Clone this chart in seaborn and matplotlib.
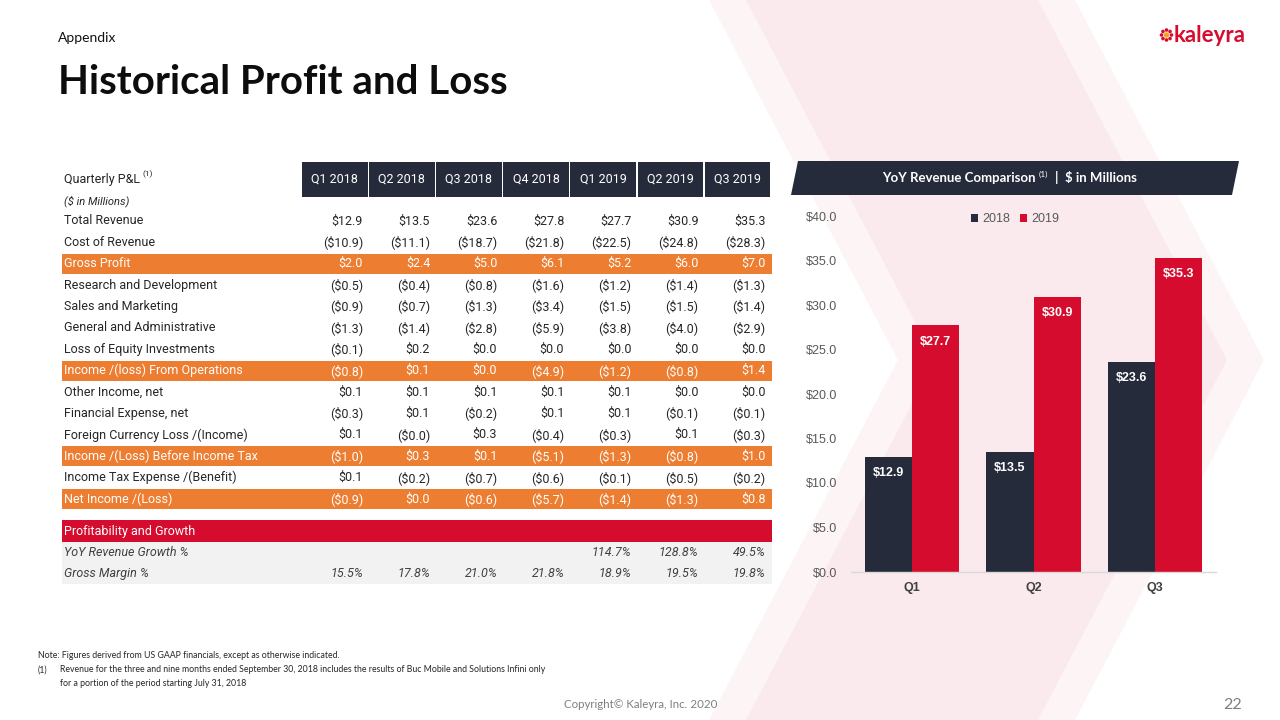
import numpy as np
import pandas as pd
import seaborn as sns
import matplotlib.pyplot as plt
from matplotlib.patches import Polygon, Rectangle, Circle

# ---- table data ($ in millions) ----
quarters = ["Q1 2018", "Q2 2018", "Q3 2018", "Q4 2018", "Q1 2019", "Q2 2019", "Q3 2019"]

row_labels = [
    "Total Revenue",
    "Cost of Revenue",
    "Gross Profit",
    "Research and Development",
    "Sales and Marketing",
    "General and Administrative",
    "Loss of Equity Investments",
    "Income /(loss) From Operations",
    "Other Income, net",
    "Financial Expense, net",
    "Foreign Currency Loss /(Income)",
    "Income /(Loss) Before Income Tax",
    "Income Tax Expense /(Benefit)",
    "Net Income /(Loss)",
]
highlight_rows = ["Gross Profit", "Income /(loss) From Operations",
                  "Income /(Loss) Before Income Tax", "Net Income /(Loss)"]

total_revenue = [12.9, 13.5, 23.6, 27.8, 27.7, 30.9, 35.3]
cost_of_revenue = [-10.9, -11.1, -18.7, -21.8, -22.5, -24.8, -28.3]
gross_profit = [2.0, 2.4, 5.0, 6.1, 5.2, 6.0, 7.0]
research_dev = [-0.5, -0.4, -0.8, -1.6, -1.2, -1.4, -1.3]
sales_marketing = [-0.9, -0.7, -1.3, -3.4, -1.5, -1.5, -1.4]
general_admin = [-1.3, -1.4, -2.8, -5.9, -3.8, -4.0, -2.9]
equity_investments = [-0.1, 0.2, 0.0, 0.0, 0.0, 0.0, 0.0]
income_operations = [-0.8, 0.1, 0.0, -4.9, -1.2, -0.8, 1.4]
other_income = [0.1, 0.1, 0.1, 0.1, 0.1, 0.0, 0.0]
financial_expense = [-0.3, 0.1, -0.2, 0.1, 0.1, -0.1, -0.1]
fx_loss = [0.1, -0.0, 0.3, -0.4, -0.3, 0.1, -0.3]
income_before_tax = [-1.0, 0.3, 0.1, -5.1, -1.3, -0.8, 1.0]
income_tax = [0.1, -0.2, -0.7, -0.6, -0.1, -0.5, -0.2]
net_income = [-0.9, 0.0, -0.6, -5.7, -1.4, -1.3, 0.8]

row_values = [total_revenue, cost_of_revenue, gross_profit, research_dev, sales_marketing,
              general_admin, equity_investments, income_operations, other_income,
              financial_expense, fx_loss, income_before_tax, income_tax, net_income]

yoy_growth = [None, None, None, None, 114.7, 128.8, 49.5]
gross_margin = [15.5, 17.8, 21.0, 21.8, 18.9, 19.5, 19.8]

# ---- chart data ----
chart_quarters = ["Q1", "Q2", "Q3"]
revenue_2018 = total_revenue[0:3]
revenue_2019 = total_revenue[4:7]

NAVY = "#262b3b"
RED = "#d50c2d"
ORANGE = "#ed7d31"
TEXT = "#262626"


def money(v):
    s = f"${abs(v):.1f}"
    return f"({s})" if np.signbit(v) else s


sns.set_theme(style="white")
plt.rcParams["font.family"] = ["Roboto", "DejaVu Sans"]

fig = plt.figure(figsize=(12.8, 7.2), dpi=100)
bg = fig.add_axes([0, 0, 1, 1])
bg.set_xlim(0, 1280)
bg.set_ylim(720, 0)
bg.axis("off")

# background chevrons
bg.add_patch(Polygon([(709, 0), (1075, 0), (1264, 360), (1075, 720), (709, 720), (898, 360)],
                     closed=True, color="#fcf4f5", lw=0, zorder=0))
bg.add_patch(Polygon([(746, 0), (1038, 0), (1227, 360), (1038, 720), (746, 720), (935, 360)],
                     closed=True, color="#faeaed", lw=0, zorder=0))

# titles
bg.text(58, 38, "Appendix", family="Lato", fontsize=10, color="#111111", va="center")
bg.text(58, 82, "Historical Profit and Loss", family="Lato", fontweight="bold",
        fontsize=29, color="#0d0d0d", va="center")

# logo
cx, cy = 1166.5, 35
for a in np.linspace(0, 2 * np.pi, 8, endpoint=False):
    bg.add_patch(Circle((cx + 5.0 * np.cos(a), cy + 5.0 * np.sin(a)), 1.8, color=RED, lw=0))
bg.add_patch(Circle((cx, cy), 2.7, color="#f5a31a", lw=0))
bg.text(1174, 42, "kaleyra", family="Lato", fontweight="bold", fontsize=16,
        color=RED, va="baseline", ha="left")

# ---- table ----
col_left, col_pitch, col_w = 302, 67.1, 65.5
t = bg.text(64, 179, "Quarterly P&L", fontsize=9, color=TEXT, va="center")
bg.annotate("(1)", xy=(1, 0.85), xycoords=t, xytext=(2, 0), textcoords="offset points",
            fontsize=6, color=TEXT, va="center")
for i, q in enumerate(quarters):
    x0 = col_left + i * col_pitch
    bg.add_patch(Rectangle((x0, 162), col_w, 35, color=NAVY, lw=0))
    bg.text(x0 + col_w / 2, 179.5, q, fontsize=9, color="white", ha="center", va="center")

bg.text(64, 201, "($ in Millions)", fontsize=8, style="italic", color=TEXT, va="center")

row_y0, row_dy = 221, 21.38
for r, (label, vals) in enumerate(zip(row_labels, row_values)):
    y = row_y0 + r * row_dy
    hl = label in highlight_rows
    if hl:
        bg.add_patch(Rectangle((62, y - 10), 710, 20, color=ORANGE, lw=0))
    c = "white" if hl else TEXT
    bg.text(64, y, label, fontsize=9, color=c, va="center")
    for i, v in enumerate(vals):
        x_right = col_left + i * col_pitch + col_w - 4.5
        bg.text(x_right, y, money(v), fontsize=9, color=c, ha="right", va="center")

# profitability section
bg.add_patch(Rectangle((62, 520), 710, 22, color=RED, lw=0))
bg.text(64, 531, "Profitability and Growth", fontsize=9, color="white", va="center")
bg.add_patch(Rectangle((62, 542), 710, 42, color="#f2f2f2", lw=0))
for y, label, vals in [(552, "YoY Revenue Growth %", yoy_growth),
                       (573.5, "Gross Margin %", gross_margin)]:
    bg.text(64, y, label, fontsize=9, style="italic", color="#404040", va="center")
    for i, v in enumerate(vals):
        if v is None:
            continue
        x_right = col_left + i * col_pitch + col_w - 4.5
        bg.text(x_right, y, f"{v:.1f}%", fontsize=9, style="italic", color="#404040",
                ha="right", va="center")

# ---- chart banner ----
bg.add_patch(Polygon([(798, 161), (1239, 161), (1232, 195), (791, 195)], closed=True,
                     color=NAVY, lw=0))
bt = bg.text(1036, 178, "YoY Revenue Comparison", family="Lato", fontweight="bold",
             fontsize=9.5, color="white", ha="right", va="center")
bg.annotate("(1)", xy=(1, 0.8), xycoords=bt, xytext=(2, 0), textcoords="offset points",
            family="Lato", fontsize=6, color="white", va="center")
bg.text(1055, 178, "|  $ in Millions", family="Lato", fontweight="bold",
        fontsize=9.5, color="white", ha="left", va="center")

# ---- bar chart ----
df = pd.DataFrame({
    "Quarter": chart_quarters * 2,
    "Year": ["2018"] * 3 + ["2019"] * 3,
    "Revenue": revenue_2018 + revenue_2019,
})
ax = fig.add_axes([851 / 1280, 148 / 720, 365 / 1280, 356 / 720])
ax.patch.set_alpha(0)
sns.barplot(data=df, x="Quarter", y="Revenue", hue="Year", palette=[NAVY, RED],
            width=0.774, saturation=1, linewidth=0, errorbar=None, ax=ax)
ax.set_xlim(-0.5, 2.5)
ax.set_ylim(0, 40)
ax.set_yticks(np.arange(0, 41, 5))
ax.set_yticklabels([f"${v:.1f}" for v in np.arange(0, 41, 5)])
ax.set_xlabel("")
ax.set_ylabel("")
sns.despine(ax=ax, left=True)
ax.spines["bottom"].set_color("#d9d9d9")
ax.spines["bottom"].set_linewidth(1)
ax.tick_params(axis="y", length=0, pad=10, labelsize=9, labelcolor="#595959")
ax.tick_params(axis="x", length=0, pad=7, labelsize=9, labelcolor="#404040")
for lab in ax.get_yticklabels():
    lab.set_family("Liberation Sans")
for lab in ax.get_xticklabels():
    lab.set_family("Liberation Sans")
    lab.set_fontweight("bold")

for cont in ax.containers:
    ax.bar_label(cont, fmt="${:.1f}", padding=-16, color="white", fontweight="bold",
                 fontsize=9, family="Liberation Sans")

sns.move_legend(ax, "center", bbox_to_anchor=(1015 / 1280, 1 - 219 / 720),
                bbox_transform=fig.transFigure, ncol=2, frameon=False, title=None,
                handlelength=0.6, handleheight=0.6, handletextpad=0.3, columnspacing=0.8,
                prop={"family": "Liberation Sans", "size": 9}, labelcolor="#595959")

# ---- footnotes ----
bg.text(38, 656, "Note: Figures derived from US GAAP financials, except as otherwise indicated.",
        family="Lato", fontsize=6.3, color=TEXT, va="center")
bg.text(38, 670, "(1)", family="Lato", fontsize=6.3, color=TEXT, va="center")
bg.text(60, 670, "Revenue for the three and nine months ended September 30, 2018 includes the "
        "results of Buc Mobile and Solutions Infini only", family="Lato", fontsize=6.3,
        color=TEXT, va="center")
bg.text(60, 683, "for a portion of the period starting July 31, 2018", family="Lato",
        fontsize=6.3, color=TEXT, va="center")
bg.text(641, 704, "Copyright\u00a9 Kaleyra, Inc. 2020", family="Lato", fontsize=8.3,
        color="#7f7f7f", ha="center", va="center")
bg.text(1233, 705, "22", family="Lato", fontsize=11.5, color="#7f7f7f", ha="center", va="center")

fig.savefig("out.png", dpi=100)
